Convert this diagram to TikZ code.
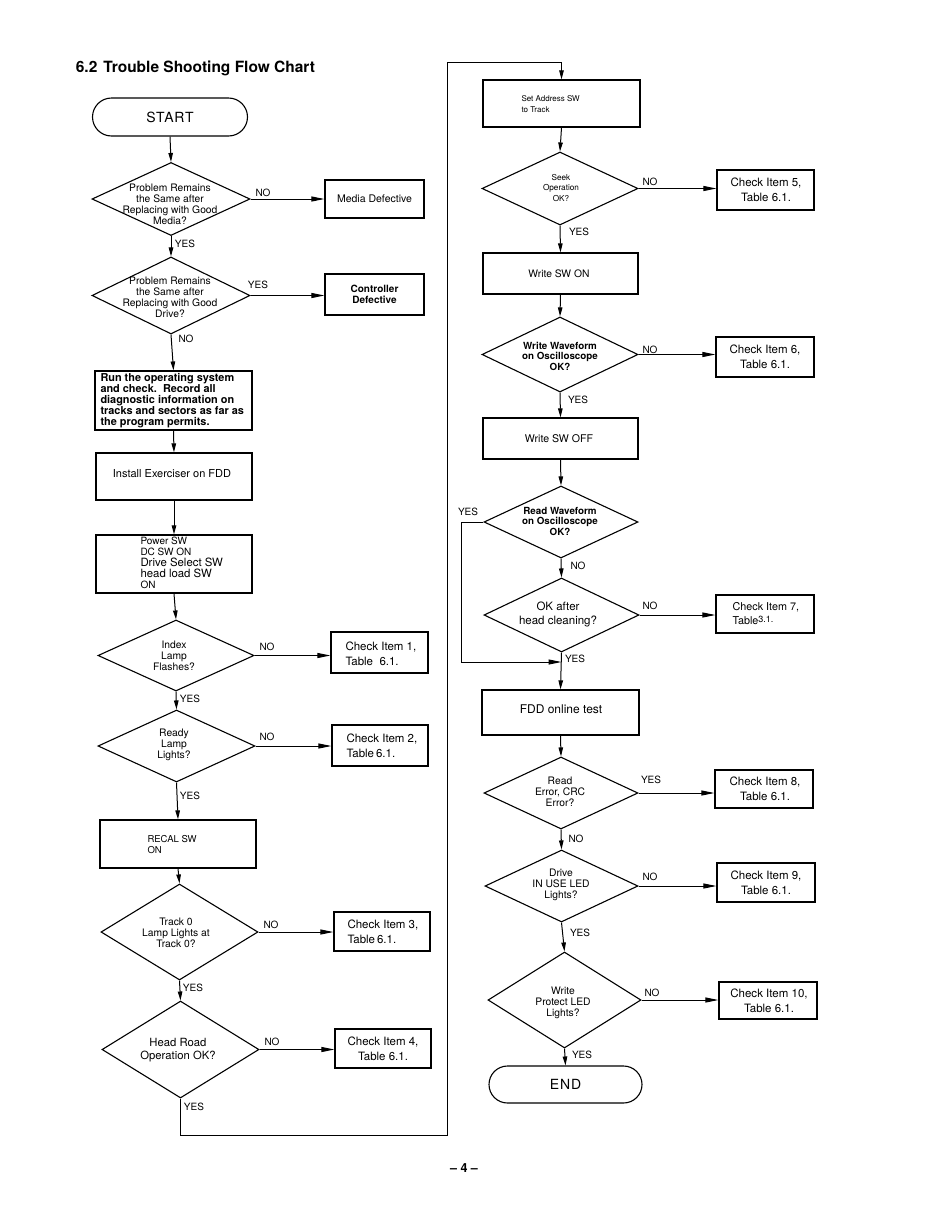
\documentclass[tikz,border=0pt]{standalone}
\usepackage{fontspec}
\setmainfont{TeX Gyre Heros}
\usetikzlibrary{shapes.geometric,shapes.misc,arrows.meta}
\begin{document}
\begin{tikzpicture}[x=1pt,y=-1pt,line width=1pt,
  arr/.style={-{Triangle[length=9pt,width=4.5pt]}},
  harr/.style={-{Triangle[length=13pt,width=5pt]}},
  box/.style={draw,rectangle,inner sep=0pt,line width=1.2pt},
  dia/.style={draw,diamond,inner sep=0pt,line width=1.1pt},
  term/.style={draw,rounded rectangle,inner sep=0pt,line width=1.1pt},
  dtxt/.style={font=\fontsize{10.3}{11}\selectfont,align=center,inner sep=0pt},
  btxt/.style={font=\fontsize{10.5}{12}\selectfont,align=center,inner sep=0pt},
  ltxt/.style={font=\fontsize{10}{11}\selectfont,align=left,inner sep=0pt},
  ctxt/.style={font=\fontsize{11.5}{15}\selectfont,align=left,inner sep=0pt},
  lab/.style={font=\fontsize{10}{11}\selectfont,inner sep=0pt},
]
\useasboundingbox[fill=white] (0,0) rectangle (941,1205);

\node[anchor=west,font=\fontsize{15.5}{18}\bfseries] (title) at (72,68) {6.2\hspace{6pt}Trouble Shooting Flow Chart};

% ---------- left column ----------
\node[term,minimum width=155pt,minimum height=38pt,font=\fontsize{14}{16}\selectfont\addfontfeatures{LetterSpace=6}] (start) at (170,117) {START};

\node[dia,minimum width=158pt,minimum height=73pt] (d1) at (171,199) {};
\node[dtxt] (t1) at (170,204) {Problem Remains\\the Same after\\Replacing with Good\\Media?};
\node[box,minimum width=99pt,minimum height=38pt] (b1) at (374.5,199) {};
\node[btxt] (tb1) at (374.5,199) {Media Defective};

\node[dia,minimum width=158pt,minimum height=77pt] (d2) at (171,295.5) {};
\node[dtxt] (t2) at (170,297) {Problem Remains\\the Same after\\Replacing with Good\\Drive?};
\node[box,minimum width=99pt,minimum height=41pt] (b2) at (374.5,294.5) {};
\node[btxt,font=\fontsize{10}{11}\bfseries] (tb2) at (374.5,294.5) {Controller\\Defective};

\node[box,minimum width=157pt,minimum height=59pt] (b3) at (173.5,400.5) {};
\node[ltxt,font=\fontsize{10.9}{11}\bfseries,anchor=west] (tb3) at (100,400.5) {Run the operating system\\and check.\ \ Record all\\diagnostic information on\\tracks and sectors as far as\\the program permits.};

\node[box,minimum width=156pt,minimum height=47pt] (b4) at (174,476.5) {};
\node[btxt,font=\fontsize{11}{12}\selectfont] (tb4) at (172,474) {Install Exerciser on FDD};

\node[box,minimum width=156pt,minimum height=58pt] (b5) at (174,564) {};
\node[ltxt,anchor=west,font=\fontsize{10}{11}\selectfont] (tb5) at (140,563) {Power SW\\DC SW ON\\{\fontsize{11.4}{11}\selectfont Drive Select SW}\\{\fontsize{11.4}{11}\selectfont head load SW}\\ON};

\node[dia,minimum width=156pt,minimum height=71pt] (d3) at (176,655.5) {};
\node[dtxt] (t3) at (174,656) {Index\\Lamp\\Flashes?};
\node[box,minimum width=97pt,minimum height=41pt] (b6) at (379.5,652.5) {};
\node[ctxt,anchor=west] (tb6) at (345,654) {Check Item 1,\\Table\ \ 6.1.};

\node[dia,minimum width=157pt,minimum height=72pt] (d4) at (176.5,746) {};
\node[dtxt] (t4) at (174,745) {Ready\\Lamp\\Lights?};
\node[box,minimum width=96pt,minimum height=41pt] (b7) at (380,745.5) {};
\node[ctxt,anchor=west] (tb7) at (346,746) {Check Item 2,\\Table\,6.1.};

\node[box,minimum width=156pt,minimum height=48pt] (b8) at (178,844) {};
\node[ltxt,anchor=west,font=\fontsize{9.5}{11}\selectfont] (tb8) at (147,845) {RECAL SW\\ON};

\node[dia,minimum width=157pt,minimum height=96pt] (d5) at (179.5,932) {};
\node[dtxt] (t5) at (176,933) {Track 0\\Lamp Lights at\\Track 0?};
\node[box,minimum width=96pt,minimum height=39pt] (b9) at (382,931.5) {};
\node[ctxt,anchor=west] (tb9) at (347,932) {Check Item 3,\\Table\,6.1.};

\node[dia,minimum width=157pt,minimum height=97pt] (d6) at (180.5,1049.5) {};
\node[dtxt,font=\fontsize{11.3}{12.5}\selectfont] (t6) at (178,1050) {Head Road\\Operation OK?};
\node[box,minimum width=96pt,minimum height=39pt] (b10) at (383,1048.5) {};
\node[ctxt,align=center] (tb10) at (383,1048.5) {Check Item 4,\\Table 6.1.};

% ---------- right column ----------
\node[box,minimum width=157pt,minimum height=47pt] (sa) at (561.5,103.5) {};
\node[ltxt,anchor=west,font=\fontsize{8}{11}\selectfont] (tsa) at (521,104.5) {Set Address SW\\to Track};

\node[dia,minimum width=156pt,minimum height=73pt] (d7) at (560,188.5) {};
\node[dtxt,font=\fontsize{8.2}{10.5}\selectfont] (t7) at (561,188) {Seek\\Operation\\OK?};
\node[box,minimum width=97pt,minimum height=40pt] (b11) at (765.5,190) {};
\node[ctxt,align=center] (tb11) at (766,190) {Check Item 5,\\Table 6.1.};

\node[box,minimum width=155pt,minimum height=41pt] (ws) at (560.5,273.5) {};
\node[btxt,font=\fontsize{10.3}{11}\selectfont] (tws) at (559,273.5) {Write SW ON};

\node[dia,minimum width=156pt,minimum height=75pt] (d8) at (560,354.5) {};
\node[dtxt,font=\fontsize{9.8}{10.5}\bfseries] (t8) at (560,356) {Write Waveform\\on Oscilloscope\\OK?};
\node[box,minimum width=98pt,minimum height=40pt] (b12) at (765,357) {};
\node[ctxt,align=center] (tb12) at (765,357) {Check Item 6,\\Table 6.1.};

\node[box,minimum width=155pt,minimum height=41pt] (wo) at (560.5,438.5) {};
\node[btxt,font=\fontsize{10.6}{11}\selectfont] (two) at (559,439) {Write SW OFF};

\node[dia,minimum width=154pt,minimum height=72pt] (d9) at (561,522) {};
\node[dtxt,font=\fontsize{9.8}{10.5}\bfseries] (t9) at (560,521) {Read Waveform\\on Oscilloscope\\OK?};

\node[dia,minimum width=155pt,minimum height=74pt] (d10) at (561.5,615) {};
\node[dtxt,font=\fontsize{11.5}{14}\selectfont] (t10) at (558,614) {OK after\\head cleaning?};
\node[box,minimum width=98pt,minimum height=38pt] (b13) at (765,614) {};
\node[ctxt,anchor=west,font=\fontsize{10.8}{14}\selectfont] (tb13) at (732,614) {Check Item 7,\\Table\raisebox{2pt}{\fontsize{9}{9}\selectfont 3.1.}};

\node[box,minimum width=157pt,minimum height=45pt] (fdd) at (560.5,712.5) {};
\node[btxt,font=\fontsize{12}{13}\selectfont] (tfdd) at (561,709.5) {FDD online test};

\node[dia,minimum width=154pt,minimum height=72pt] (d11) at (561,793) {};
\node[dtxt] (t11) at (560,792) {Read\\Error, CRC\\Error?};
\node[box,minimum width=98pt,minimum height=38pt] (b14) at (764,789) {};
\node[ctxt,align=center] (tb14) at (765,789) {Check Item 8,\\Table 6.1.};

\node[dia,minimum width=153pt,minimum height=72pt] (d12) at (561.5,886) {};
\node[dtxt] (t12) at (561,884.5) {Drive\\IN USE LED\\Lights?};
\node[box,minimum width=98pt,minimum height=39pt] (b15) at (766,882.5) {};
\node[ctxt,align=center] (tb15) at (766,882.5) {Check Item 9,\\Table 6.1.};

\node[dia,minimum width=153pt,minimum height=96pt] (d13) at (564.5,1000) {};
\node[dtxt] (t13) at (563,1003) {Write\\Protect LED\\Lights?};
\node[box,minimum width=98pt,minimum height=37pt] (b16) at (768,1000.5) {};
\node[ctxt,align=center] (tb16) at (769,1000.5) {Check Item 10,\\Table 6.1.};

\node[term,minimum width=153pt,minimum height=37pt,font=\fontsize{14}{16}\selectfont\addfontfeatures{LetterSpace=6}] (end) at (565.5,1084.5) {END};

\node[font=\fontsize{12.5}{14}\bfseries] (pg) at (464,1168) {--\ 4\ --};

% ---------- connectors ----------
\draw[arr] (start.south) -- (d1.north);
\draw[harr] (d1.east) -- (d1.east -| b1.west);
\draw[arr] (d1.south) -- (d2.north);
\draw[harr] (d2.east) -- (d2.east -| b2.west);
\draw[arr] (d2.south) -- (b3.north);
\draw[arr] (b3.south) -- (b4.north);
\draw[arr] (b4.south) -- (b5.north);
\draw[arr] (b5.south) -- (d3.north);
\draw[harr] (d3.east) -- (d3.east -| b6.west);
\draw[arr] (d3.south) -- (d4.north);
\draw[harr] (d4.east) -- (d4.east -| b7.west);
\draw[arr] (d4.south) -- (b8.north);
\draw[arr] (b8.south) -- (d5.north);
\draw[harr] (d5.east) -- (d5.east -| b9.west);
\draw[arr] (d5.south) -- (d6.north);
\draw[harr] (d6.east) -- (d6.east -| b10.west);

\coordinate (c1) at (180.5,1135);
\coordinate (c2) at (447,1135);
\coordinate (c3) at (447,62);
\draw[arr] (d6.south) -- (c1) -- (c2) -- (c3) -| (sa.north);

\draw[arr] (sa.south) -- (d7.north);
\draw[harr] (d7.east) -- (d7.east -| b11.west);
\draw[arr] (d7.south) -- (ws.north);
\draw[arr] (ws.south) -- (d8.north);
\draw[harr] (d8.east) -- (d8.east -| b12.west);
\draw[arr] (d8.south) -- (wo.north);
\draw[arr] (wo.south) -- (d9.north);
\draw[arr] (d9.south) -- (d10.north);
\draw[harr] (d10.east) -- (d10.east -| b13.west);
\draw[arr] (d10.south) -- (fdd.north);
\coordinate (j) at (561.5,662);
\coordinate (c4) at (461,522);
\draw[harr] (d9.west) -- (c4) |- (j);
\draw[arr] (fdd.south) -- (d11.north);
\draw[harr] (d11.east) -- (d11.east -| b14.west);
\draw[arr] (d11.south) -- (d12.north);
\draw[harr] (d12.east) -- (d12.east -| b15.west);
\draw[arr] (d12.south) -- (d13.north);
\draw[harr] (d13.east) -- (d13.east -| b16.west);
\draw[arr] (d13.south) -- (end.north);

% ---------- labels ----------
\node[lab] (n1) at (263,193) {NO};
\node[lab] (y1) at (185,244) {YES};
\node[lab] (y2) at (258,285) {YES};
\node[lab] (n2) at (186,339) {NO};
\node[lab] (n3) at (267,647) {NO};
\node[lab] (y3) at (190,699) {YES};
\node[lab] (n4) at (267,737) {NO};
\node[lab] (y4) at (190,796) {YES};
\node[lab] (n5) at (271,925) {NO};
\node[lab] (y5) at (193,988) {YES};
\node[lab] (n6) at (272,1042) {NO};
\node[lab] (y6) at (194,1107) {YES};
\node[lab] (n7) at (650,182) {NO};
\node[lab] (y7) at (579,232) {YES};
\node[lab] (n8) at (650,350) {NO};
\node[lab] (y8) at (578,400) {YES};
\node[lab] (y9) at (468,512) {YES};
\node[lab] (n9) at (578,566) {NO};
\node[lab] (n10) at (650,606) {NO};
\node[lab] (y10) at (575,659) {YES};
\node[lab] (y11) at (651,780) {YES};
\node[lab] (n11) at (576,839) {NO};
\node[lab] (n12) at (650,877) {NO};
\node[lab] (y12) at (580,933) {YES};
\node[lab] (n13) at (652,993) {NO};
\node[lab] (y13) at (582,1055) {YES};
\end{tikzpicture}
\end{document}
